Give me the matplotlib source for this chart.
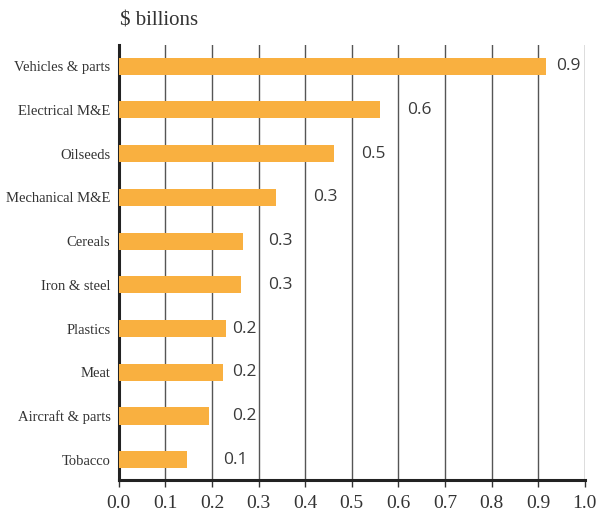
import matplotlib
matplotlib.use('Agg')
import matplotlib.pyplot as plt

# Exports by product, $ billions
categories = ["Vehicles & parts", "Electrical M&E", "Oilseeds", "Mechanical M&E",
              "Cereals", "Iron & steel", "Plastics", "Meat", "Aircraft & parts", "Tobacco"]
values = [0.916, 0.561, 0.462, 0.338, 0.266, 0.263, 0.231, 0.223, 0.193, 0.146]
value_labels = ["0.9", "0.6", "0.5", "0.3", "0.3", "0.3", "0.2", "0.2", "0.2", "0.1"]
# where the value labels sit (left edge, in data units)
label_x = [0.938, 0.619, 0.52, 0.418, 0.321, 0.321, 0.244, 0.244, 0.244, 0.223]
xticks = [i / 10 for i in range(11)]

bar_color = '#F9B040'
text_color = '#333333'

fig = plt.figure(figsize=(6.06, 5.21), dpi=100)
ax = fig.add_axes([0.196, 0.079, 0.769, 0.835])

ypos = list(range(len(categories)))
ax.barh(ypos, values, height=0.39, color=bar_color, zorder=3)

for y, lx, lab in zip(ypos, label_x, value_labels):
    ax.text(lx, y, lab, va='center', ha='left', fontsize=12.5,
            family='Open Sans', color='#3a3a3a', zorder=4)

ax.set_xlim(0, 1.0)
ax.set_ylim(9.46, -0.49)
ax.set_xticks(xticks)
ax.set_xticklabels([f"{t:.1f}" for t in xticks], family='Liberation Serif',
                   fontsize=14, color=text_color)
ax.set_yticks(ypos)
ax.set_yticklabels(categories, family='Liberation Serif', fontsize=10.5,
                   color=text_color)
ax.tick_params(axis='y', length=0, pad=6)
ax.tick_params(axis='x', length=5, width=1, color='#333333', pad=6)

for t in xticks[1:]:
    ax.axvline(t, color='#555555', lw=1.0, zorder=1)

for side in ['top', 'right']:
    ax.spines[side].set_visible(False)
ax.spines['left'].set_linewidth(2.2)
ax.spines['left'].set_color('#222222')
ax.spines['bottom'].set_linewidth(2.2)
ax.spines['bottom'].set_color('#222222')

fig.text(0.198, 0.96, "$ billions", family='Liberation Serif', fontsize=15,
         color=text_color, ha='left', va='center')

fig.savefig('out.png', dpi=100)
